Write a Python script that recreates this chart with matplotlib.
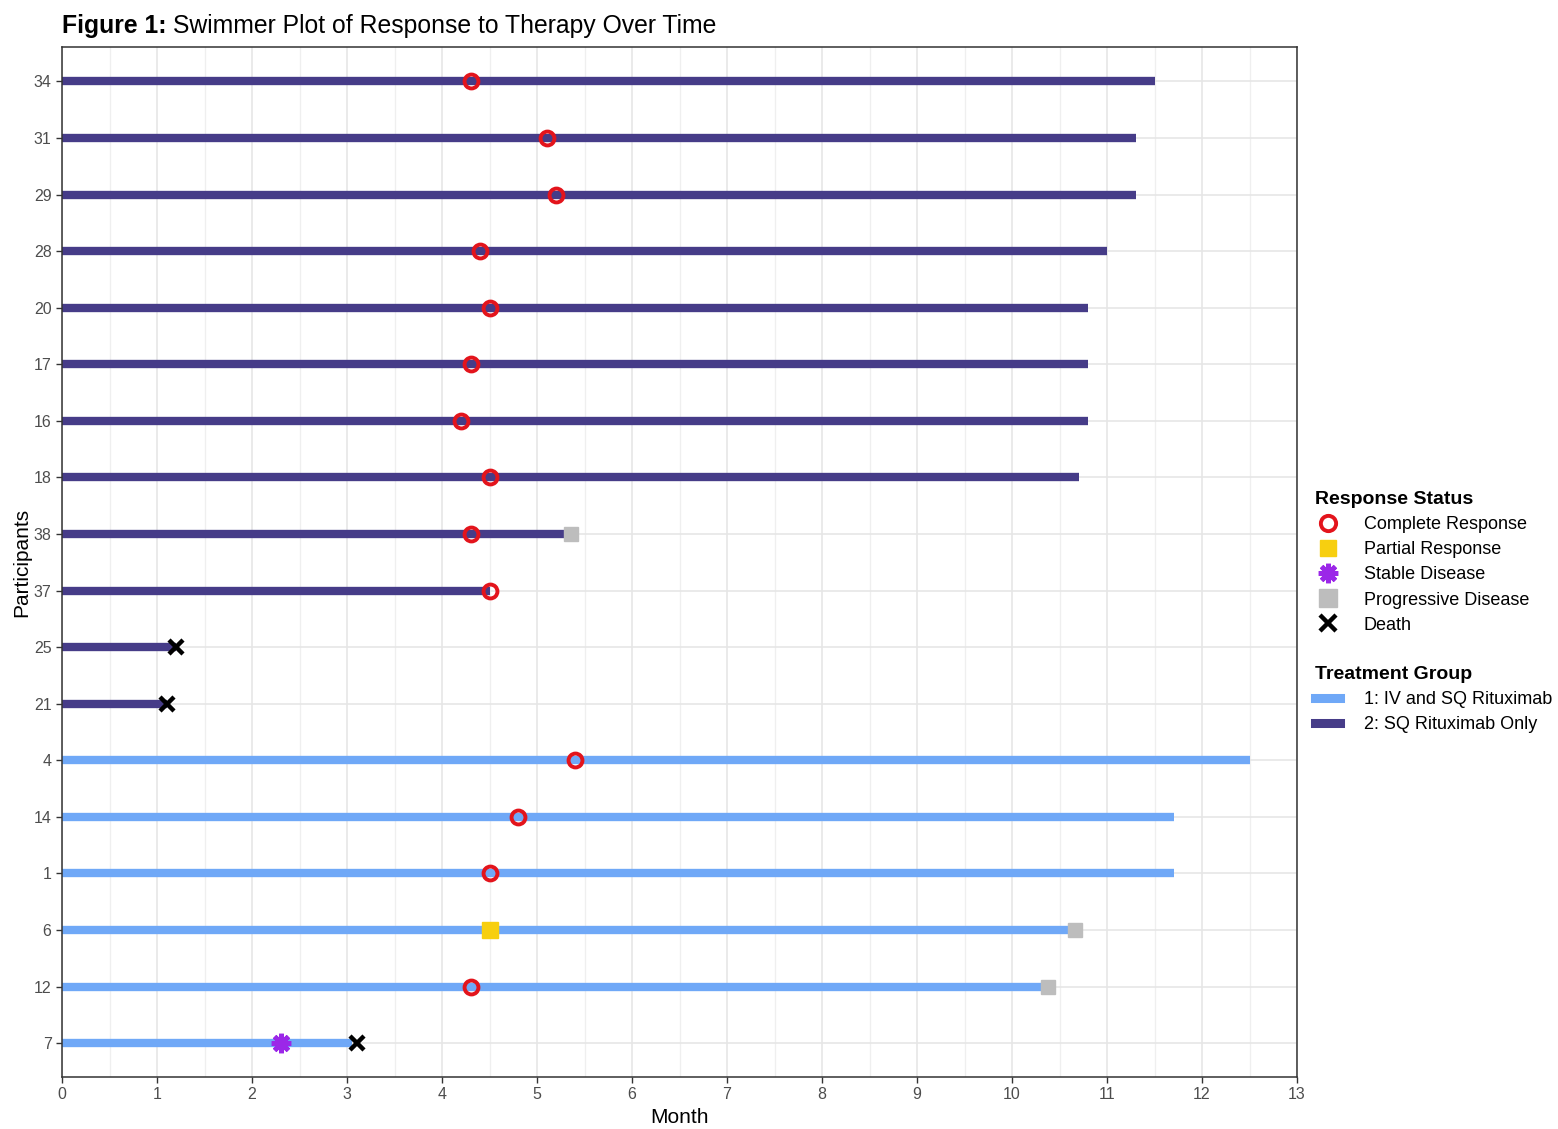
import numpy as np
import matplotlib.pyplot as plt
from matplotlib.lines import Line2D

plt.rcParams['font.family'] = ['Liberation Sans', 'DejaVu Sans']

# participants from bottom to top
participants = ["7", "12", "6", "1", "14", "4", "21", "25", "37", "38",
                "18", "16", "17", "20", "28", "29", "31", "34"]
group = [1, 1, 1, 1, 1, 1, 2, 2, 2, 2, 2, 2, 2, 2, 2, 2, 2, 2]
duration = [3.05, 10.35, 10.62, 11.7, 11.7, 12.5, 1.1, 1.2, 4.5, 5.33,
            10.7, 10.8, 10.8, 10.8, 11.0, 11.3, 11.3, 11.5]

# response events: (participant, month)
cr_pid = ["12", "1", "14", "4", "37", "38", "18", "16", "17", "20", "28", "29", "31", "34"]
cr_month = [4.3, 4.5, 4.8, 5.4, 4.5, 4.3, 4.5, 4.2, 4.3, 4.5, 4.4, 5.2, 5.1, 4.3]
pr_pid = ["6"]
pr_month = [4.5]
sd_pid = ["7"]
sd_month = [2.3]
pd_pid = ["12", "6", "38"]
pd_month = [10.38, 10.66, 5.36]
death_pid = ["7", "21", "25"]
death_month = [3.1, 1.1, 1.2]

group_colors = {1: "#6fa8f7", 2: "#463c88"}
group_labels = {1: "1: IV and SQ Rituximab", 2: "2: SQ Rituximab Only"}

ypos = {p: i + 1 for i, p in enumerate(participants)}

fig = plt.figure(figsize=(15.58, 11.29), dpi=100)
ax = fig.add_axes([0.0398, 0.046, 0.7927, 0.912])

for p, g, d in zip(participants, group, duration):
    ax.plot([0, d], [ypos[p], ypos[p]], color=group_colors[g], lw=6,
            solid_capstyle="butt", zorder=2)

ax.plot(pd_month, [ypos[p] for p in pd_pid], ls="none",
        marker="s", ms=10, color="#bdbdbd", zorder=3)
ax.plot(cr_month, [ypos[p] for p in cr_pid], ls="none", marker="o", ms=10,
        mfc="none", mec="#e3141c", mew=2.8, zorder=4)
ax.plot(pr_month, [ypos[p] for p in pr_pid], ls="none", marker="s", ms=11,
        color="#f7cf10", zorder=4)
ax.plot(sd_month, [ypos[p] for p in sd_pid], ls="none", marker=(8, 2, 0), ms=14,
        mec="#9b27e8", mew=3.5, zorder=4)
ax.plot(death_month, [ypos[p] for p in death_pid], ls="none", marker="x", ms=10.5,
        mec="black", mew=3.2, zorder=4)

ax.set_xlim(0, 13)
ax.set_ylim(0.4, len(participants) + 0.6)
ax.set_xticks(np.arange(0, 14, 1))
ax.set_xticks(np.arange(0.5, 13, 1), minor=True)
ax.set_yticks(range(1, len(participants) + 1))
ax.set_yticklabels(participants)
ax.grid(which="major", color="#e6e6e6", lw=1.2, zorder=0)
ax.grid(which="minor", axis="x", color="#efefef", lw=0.9, zorder=0)
ax.set_axisbelow(True)
for s in ax.spines.values():
    s.set_color("#333333")
    s.set_linewidth(1.1)
ax.tick_params(which="major", length=4, color="#333333", labelsize=11.5,
               labelcolor="#4d4d4d", width=1)
ax.tick_params(which="minor", length=0)
ax.set_xlabel("Month", fontsize=15, labelpad=4)
ax.set_ylabel("Participants", fontsize=15, labelpad=2)

t1 = fig.text(0.0398, 0.966, "Figure 1:", fontsize=17.8, fontweight="bold",
              va="bottom", ha="left")
fig.canvas.draw()
bb = t1.get_window_extent().transformed(fig.transFigure.inverted())
fig.text(bb.x1 + 0.004, 0.966, "Swimmer Plot of Response to Therapy Over Time",
         fontsize=17.8, va="bottom", ha="left")

resp_handles = [
    Line2D([], [], ls="none", marker="o", ms=11, mfc="none", mec="#e3141c", mew=2.8),
    Line2D([], [], ls="none", marker="s", ms=12, color="#f7cf10"),
    Line2D([], [], ls="none", marker=(8, 2, 0), ms=14, mec="#9b27e8", mew=3.5),
    Line2D([], [], ls="none", marker="s", ms=13, color="#bdbdbd"),
    Line2D([], [], ls="none", marker="x", ms=11, mec="black", mew=3.2),
]
resp_labels = ["Complete Response", "Partial Response", "Stable Disease",
               "Progressive Disease", "Death"]
leg1 = fig.legend(resp_handles, resp_labels, title="Response Status",
                  loc="upper left", bbox_to_anchor=(0.844, 0.565), frameon=False,
                  fontsize=13, title_fontsize=14, alignment="left",
                  handlelength=1.4, handletextpad=1.3, labelspacing=0.45,
                  borderaxespad=0, borderpad=0)
leg1.get_title().set_fontweight("bold")

grp_handles = [Line2D([], [], color=group_colors[g], lw=6.5) for g in (1, 2)]
leg2 = fig.legend(grp_handles, [group_labels[g] for g in (1, 2)],
                  title="Treatment Group", loc="upper left",
                  bbox_to_anchor=(0.844, 0.410), frameon=False,
                  fontsize=13, title_fontsize=14, alignment="left",
                  handlelength=1.4, handletextpad=1.3, labelspacing=0.45,
                  borderaxespad=0, borderpad=0)
leg2.get_title().set_fontweight("bold")

fig.savefig("out.png", dpi=100)
